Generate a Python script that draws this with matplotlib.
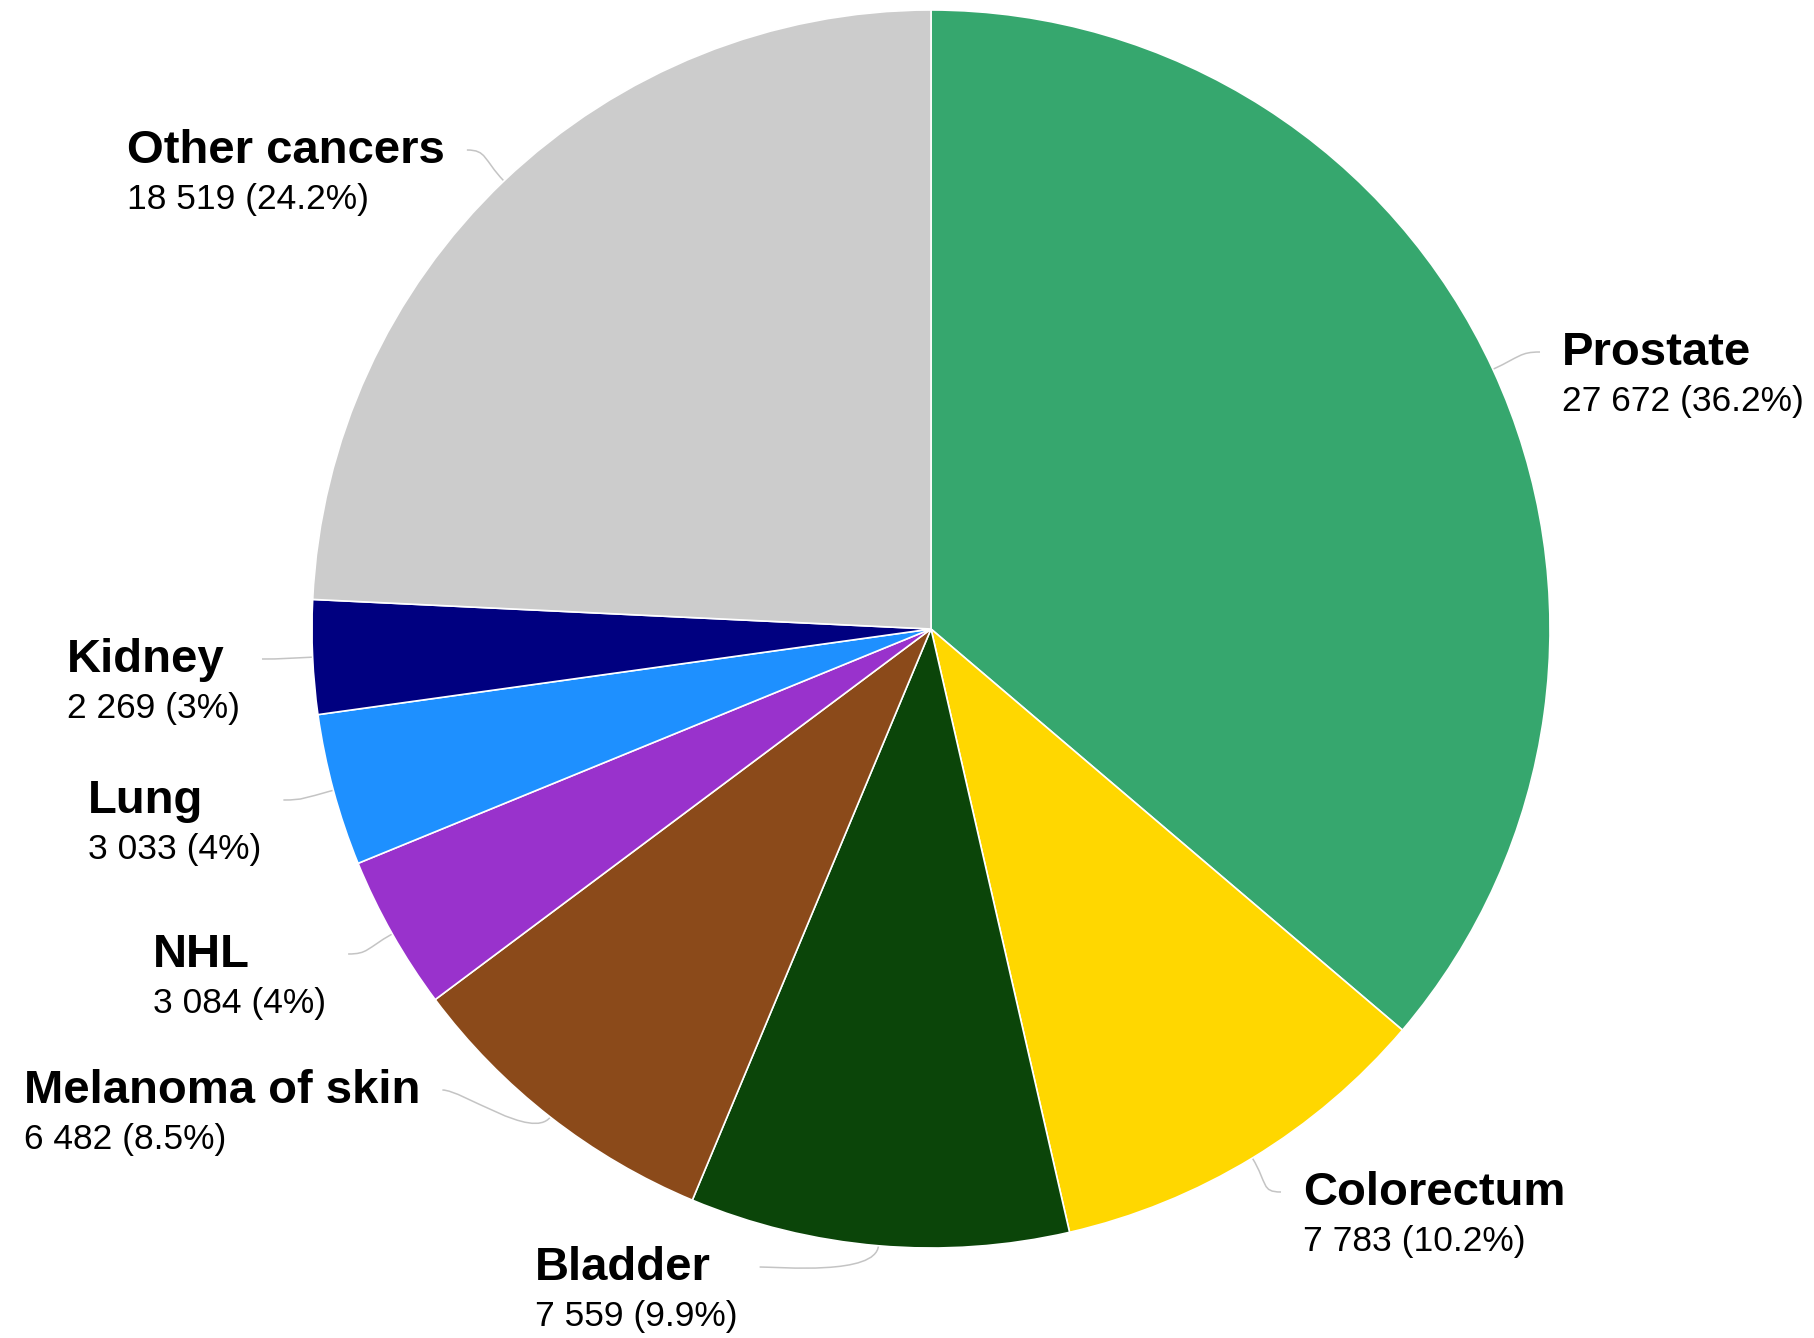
import numpy as np
import matplotlib
matplotlib.use("Agg")
import matplotlib.pyplot as plt
from matplotlib.path import Path
from matplotlib.patches import PathPatch

plt.rcParams['font.family'] = ['Liberation Sans', 'DejaVu Sans']

# Data
sites = ["Prostate", "Colorectum", "Bladder", "Melanoma of skin",
         "NHL", "Lung", "Kidney", "Other cancers"]
cases = [27672, 7783, 7559, 6482, 3084, 3033, 2269, 18519]
colors = ["#36a76e", "#ffd700", "#0b4509", "#8b4a1a",
          "#9932cc", "#1e90ff", "#000080", "#cccccc"]

# label layout: left edge and baseline of the site name (pixels)
label_x = [1562, 1303, 535, 24, 153, 88, 67, 127]
label_y = [365, 1205, 1280, 1103, 967, 813, 672, 163]

W, H = 1815, 1338
cx, cy, r = 931, 629, 619

fig = plt.figure(figsize=(W/100, H/100), dpi=100)
ax = fig.add_axes([0, 0, 1, 1])

# y axis inverted -> start at -90 and go counterclockwise = top, clockwise on screen
wedges, _ = ax.pie(cases, colors=colors, startangle=-90, counterclock=True,
                   center=(cx, cy), radius=r, frame=True,
                   wedgeprops=dict(edgecolor="white", linewidth=1.2))
ax.set_xlim(0, W)
ax.set_ylim(H, 0)
ax.set_aspect("equal")
ax.axis("off")

total = sum(cases)

def fmt_pct(v):
    s = f"{100*v/total:.1f}"
    if s.endswith(".0"):
        s = s[:-2]
    return s

texts = []
for i, name in enumerate(sites):
    t1 = ax.text(label_x[i], label_y[i], name, fontsize=34, fontweight="bold",
                 ha="left", va="baseline", color="black")
    num = f"{cases[i]:,}".replace(",", " ")
    t2 = ax.text(label_x[i], label_y[i] + 46, f"{num} ({fmt_pct(cases[i])}%)",
                 fontsize=25.5, ha="left", va="baseline", color="black")
    texts.append((t1, t2))

fig.canvas.draw()
renderer = fig.canvas.get_renderer()

# leader lines
for i, w in enumerate(wedges):
    th = np.deg2rad((w.theta1 + w.theta2) / 2)
    dx, dy = np.cos(th), np.sin(th)
    edge = (cx + r*dx, cy + r*dy)
    c1 = (cx + (r + 30)*dx, cy + (r + 30)*dy)
    ey = label_y[i] - 13
    if edge[0] > cx:
        ex = label_x[i] - 22
        c2 = (ex - 20, ey)
    else:
        right = max(t.get_window_extent(renderer).x1 for t in texts[i])
        ex = right + 22
        c2 = (ex + 20, ey)
    path = Path([edge, c1, c2, (ex, ey)],
                [Path.MOVETO, Path.CURVE4, Path.CURVE4, Path.CURVE4])
    ax.add_patch(PathPatch(path, facecolor="none", edgecolor="#c4c4c4",
                           linewidth=1.1, zorder=0.5))

fig.savefig("out.png", dpi=100, facecolor="white")
